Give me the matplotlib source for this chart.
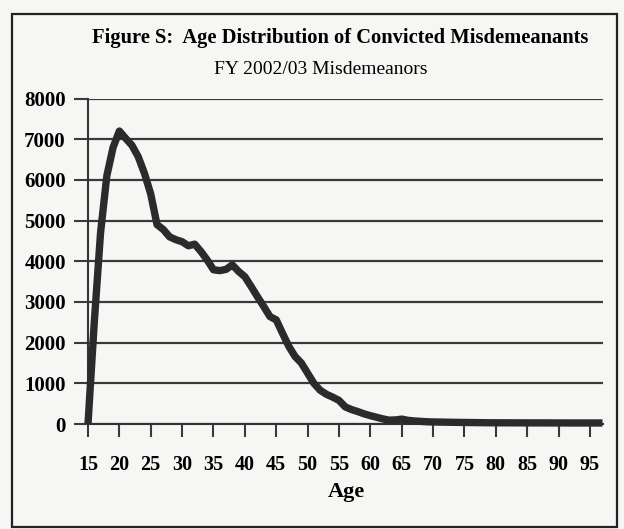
import matplotlib
matplotlib.use("Agg")
import matplotlib.pyplot as plt
from matplotlib.patches import Rectangle

ages = list(range(15, 98))
counts = [0, 2500, 4700, 6100, 6800, 7200, 7020, 6850, 6570, 6160,
          5650, 4900, 4780, 4600, 4530, 4480, 4380, 4420, 4240, 4030,
          3790, 3770, 3800, 3910, 3750, 3620, 3380, 3130, 2890, 2640,
          2560, 2230, 1910, 1660, 1500, 1250, 1000, 830, 730, 660,
          580, 420, 355, 305, 250, 205, 165, 125, 95, 100,
          120, 90, 75, 65, 55, 50, 48, 45, 42, 40,
          38, 36, 34, 32, 30, 30, 29, 29, 28, 28,
          28, 27, 27, 27, 26, 26, 26, 25, 25, 25,
          25, 25, 25]
xticks = list(range(15, 100, 5))
yticks = list(range(0, 8001, 1000))

title = "Figure S:  Age Distribution of Convicted Misdemeanants"
subtitle = "FY 2002/03 Misdemeanors"
xlabel = "Age"

W, H = 624, 529
fig = plt.figure(figsize=(W / 100, H / 100), dpi=100)
bg = "#f6f6f4"
fig.patch.set_facecolor(bg)

# outer border
fig.add_artist(Rectangle((12 / W, 2 / H), 605 / W, (527 - 14) / H,
                         transform=fig.transFigure, fill=False,
                         edgecolor="#222222", linewidth=1.6))

ax = fig.add_axes([88 / W, (H - 424) / H, (602.5 - 88) / W, (424 - 98.5) / H])
ax.set_facecolor(bg)
ax.plot(ages, counts, color="#2b2b2b", linewidth=5.3, solid_capstyle="butt",
        solid_joinstyle="round", zorder=3, clip_on=False)

ax.set_xlim(15, 97)
ax.set_ylim(0, 8000)
ax.set_xticks(xticks)
ax.set_yticks(yticks)
ax.set_xticklabels([str(t) for t in xticks], fontsize=14.5,
                   family="Liberation Serif", fontweight="bold")
ax.set_yticklabels([str(t) for t in yticks], fontsize=15,
                   family="Liberation Serif", fontweight="bold")
ax.yaxis.grid(True, color="#3a3a3a", linewidth=1.6)
ax.set_axisbelow(True)
for s in ["top", "right"]:
    ax.spines[s].set_visible(False)
ax.spines["left"].set_color("#333333")
ax.spines["left"].set_linewidth(1.5)
ax.spines["bottom"].set_color("#333333")
ax.spines["bottom"].set_linewidth(1.5)
ax.tick_params(axis="y", length=10, width=1.5, color="#3a3a3a", pad=6)
ax.tick_params(axis="x", length=9.5, width=1.5, color="#3a3a3a", pad=13)

fig.text(340 / W, 1 - 38 / H, title, ha="center", va="center",
         fontsize=14.8, fontweight="bold", family="Liberation Serif")
fig.text(321 / W, 1 - 70 / H, subtitle, ha="center", va="center",
         fontsize=14, family="Liberation Serif")
fig.text(346 / W, 1 - 492 / H, xlabel, ha="center", va="center",
         fontsize=16, fontweight="bold", family="Liberation Serif")

fig.savefig("out.png", dpi=100, facecolor=bg)
